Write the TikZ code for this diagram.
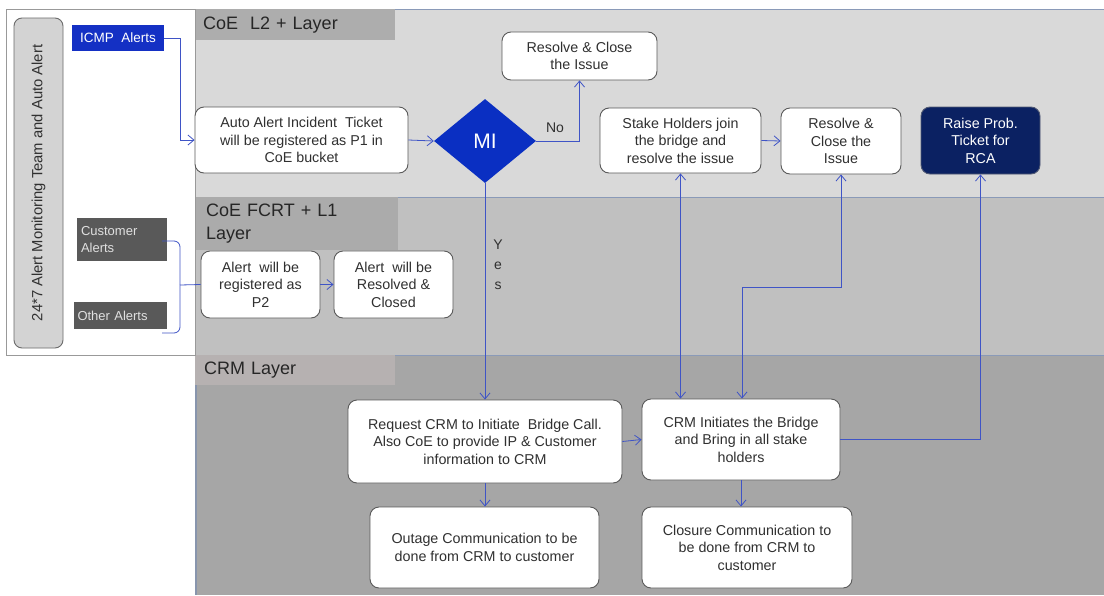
\documentclass[tikz,border=0pt]{standalone}
\usepackage{fontspec}
\setmainfont{Liberation Sans}
\usetikzlibrary{shapes.geometric,arrows.meta}

\definecolor{topL}{HTML}{D9D9D9}
\definecolor{midL}{HTML}{C0C0C0}
\definecolor{botL}{HTML}{A6A6A6}
\definecolor{hdrTop}{HTML}{ADADAD}
\definecolor{hdrMid}{HTML}{ABABAB}
\definecolor{hdrBot}{HTML}{B6B1B1}
\definecolor{laneLine}{HTML}{8A9AB8}
\definecolor{flow}{HTML}{3F54C6}
\definecolor{boxEdge}{HTML}{5A5A5A}
\definecolor{txt}{HTML}{303030}
\definecolor{icmpBlue}{HTML}{1430C4}
\definecolor{miBlue}{HTML}{0A2FC2}
\definecolor{navy}{HTML}{0B2162}
\definecolor{alertGray}{HTML}{595959}
\definecolor{teamGray}{HTML}{D3D3D3}

\tikzset{
  procbox/.style={draw=boxEdge, fill=white, rounded corners=9pt, line width=0.9pt,
    align=center, text=txt, inner sep=2pt,
    font=\fontsize{14.3}{17.5}\selectfont},
  lanehdr/.style={anchor=north west, align=left, inner sep=0pt, text=black!85,
    font=\fontsize{18}{23}\selectfont},
  srcbox/.style={fill=alertGray, text=black!12, align=left, inner sep=0pt,
    font=\fontsize{13}{17}\selectfont},
  flowline/.style={draw=flow, line width=0.8pt},
  flowarrow/.style={flowline, -{Straight Barb[length=6pt,width=10pt]}},
  flowboth/.style={flowline, {Straight Barb[length=6pt,width=10pt]}-{Straight Barb[length=6pt,width=10pt]}},
  flowlabel/.style={text=txt, align=center, inner sep=0pt,
    font=\fontsize{14}{20}\selectfont}
}

\begin{document}
\begin{tikzpicture}[x=1pt,y=-1pt]
\useasboundingbox (0,0) rectangle (1104,595);
\fill[white] (0,0) rectangle (1104,595);

% swim lanes
\fill[topL] (195,9) rectangle (1104,197);
\fill[midL] (195,197) rectangle (1104,355);
\fill[botL] (195,355) rectangle (1104,595);
\draw[laneLine, line width=0.8pt] (195,9.5) -- (1104,9.5);
\draw[laneLine, line width=0.8pt] (195,197) -- (1104,197);
\draw[laneLine, line width=0.8pt] (195,355) -- (1104,355);
\draw[laneLine!80!gray, line width=2pt] (196,355) -- (196,595);

% lane headers
\node[lanehdr, fill=hdrTop, minimum width=200pt, minimum height=31pt, text width=200pt] (hTop) at (195,9) {\hspace*{8pt}CoE\ \ L2 + Layer};
\node[lanehdr, fill=hdrMid, minimum width=203pt, minimum height=53pt, text width=203pt] (hMid) at (195,197)
  {\hspace*{11pt}CoE FCRT + L1\\\hspace*{11pt}Layer};
\node[lanehdr, fill=hdrBot, minimum width=200pt, minimum height=30pt, text width=200pt] (hBot) at (195,355) {\hspace*{9pt}CRM Layer};

% monitoring panel
\draw[gray!80, line width=0.8pt, fill=white] (6,9) rectangle (195,355);
\node[draw=boxEdge!90, fill=teamGray, rounded corners=8pt, line width=0.9pt,
      minimum width=49pt, minimum height=330pt, inner sep=0pt] (team) at (38.5,183) {};
\node[rotate=90, text=txt, font=\fontsize{14.8}{17}\selectfont] (teamtxt) at (team.center) {24*7 Alert Monitoring Team and Auto Alert};

% alert sources
\node[fill=icmpBlue, text=white, minimum width=92pt, minimum height=26pt, inner sep=0pt,
      font=\fontsize{13.5}{16}\selectfont] (icmp) at (118,38) {ICMP\ \ Alerts};
\node[srcbox, minimum width=90pt, minimum height=43pt, text width=82pt] (cust) at (122,239.5) {Customer\\Alerts};
\node[srcbox, minimum width=93pt, minimum height=27pt, text width=86pt] (other) at (120.5,315.5) {Other Alerts};

% CoE L2 lane
\node[procbox, minimum width=213pt, minimum height=66pt] (auto) at (301.5,140)
  {Auto Alert Incident\ \ Ticket\\will be registered as P1 in\\CoE bucket};
\node[diamond, fill=miBlue, text=white, minimum width=102pt, minimum height=84pt, inner sep=0pt,
      font=\fontsize{21}{24}\selectfont] (mi) at (485,141) {MI};
\node[procbox, minimum width=155pt, minimum height=48pt] (res1) at (579.5,56) {Resolve \& Close\\the Issue};
\node[procbox, minimum width=161pt, minimum height=65pt] (stake) at (680.5,140.5)
  {Stake Holders join\\the bridge and\\resolve the issue};
\node[procbox, minimum width=120pt, minimum height=66pt] (res2) at (841,141) {Resolve \&\\Close the\\Issue};
\node[procbox, fill=navy, draw=gray!60!navy, text=white, minimum width=119pt, minimum height=67pt] (raise) at (980.5,140.5)
  {Raise Prob.\\Ticket for\\RCA};

% CoE FCRT + L1 lane
\node[procbox, minimum width=119pt, minimum height=67pt] (p2) at (260.5,284.5) {Alert\ \ will be\\registered as\\P2};
\node[procbox, minimum width=119pt, minimum height=67pt] (closed) at (393.5,284.5) {Alert\ \ will be\\Resolved \&\\Closed};

% CRM lane
\node[procbox, minimum width=274pt, minimum height=83pt] (req) at (485,441.5)
  {Request CRM to Initiate\ \ Bridge Call.\\Also CoE to provide IP \& Customer\\information to CRM};
\node[procbox, minimum width=198pt, minimum height=81pt] (crm) at (741,439.5)
  {CRM Initiates the Bridge\\and Bring in all stake\\holders};
\node[procbox, minimum width=229pt, minimum height=81pt] (outage) at (484.5,547.5)
  {Outage Communication to be\\done from CRM to customer};
\node[procbox, minimum width=210pt, minimum height=81pt] (closure) at (747,547.5)
  {Closure Communication to\\be done from CRM to\\customer};

% connectors
\coordinate (icmpBend) at (180,38);
\draw[flowarrow] (icmp.east) -- (icmpBend) |- (auto.west);
\draw[flowarrow] (auto.east) -- (mi.west);
\draw[flowarrow] (mi.east) -| (res1.south);
\node[flowlabel] (nolbl) at (555,128) {No};
\draw[flowarrow] (mi.south) -- (mi.south |- req.north);
\node[flowlabel] (yeslbl) at (498,265) {Y\\e\\s};
\draw[flowarrow] (stake.east) -- (res2.west);

\coordinate (braceMid) at (180,285);
\draw[flowline, rounded corners=6pt] (162,241) -| (braceMid) |- (162,333);
\draw[flowline] (braceMid) -- (p2.west);
\draw[flowarrow] (p2.east) -- (closed.west);

\draw[flowarrow] (req.east) -- (crm.west);
\draw[flowarrow] (req.south) -- (req.south |- outage.north);
\draw[flowarrow] (crm.south) -- (crm.south |- closure.north);

\draw[flowboth] (stake.south) -- (stake.south |- crm.north);
\coordinate (crmBend) at (742,287);
\draw[flowboth] (crmBend |- crm.north) -- (crmBend) -| (res2.south);
\draw[flowarrow] (crm.east) -| (raise.south);
\end{tikzpicture}
\end{document}
